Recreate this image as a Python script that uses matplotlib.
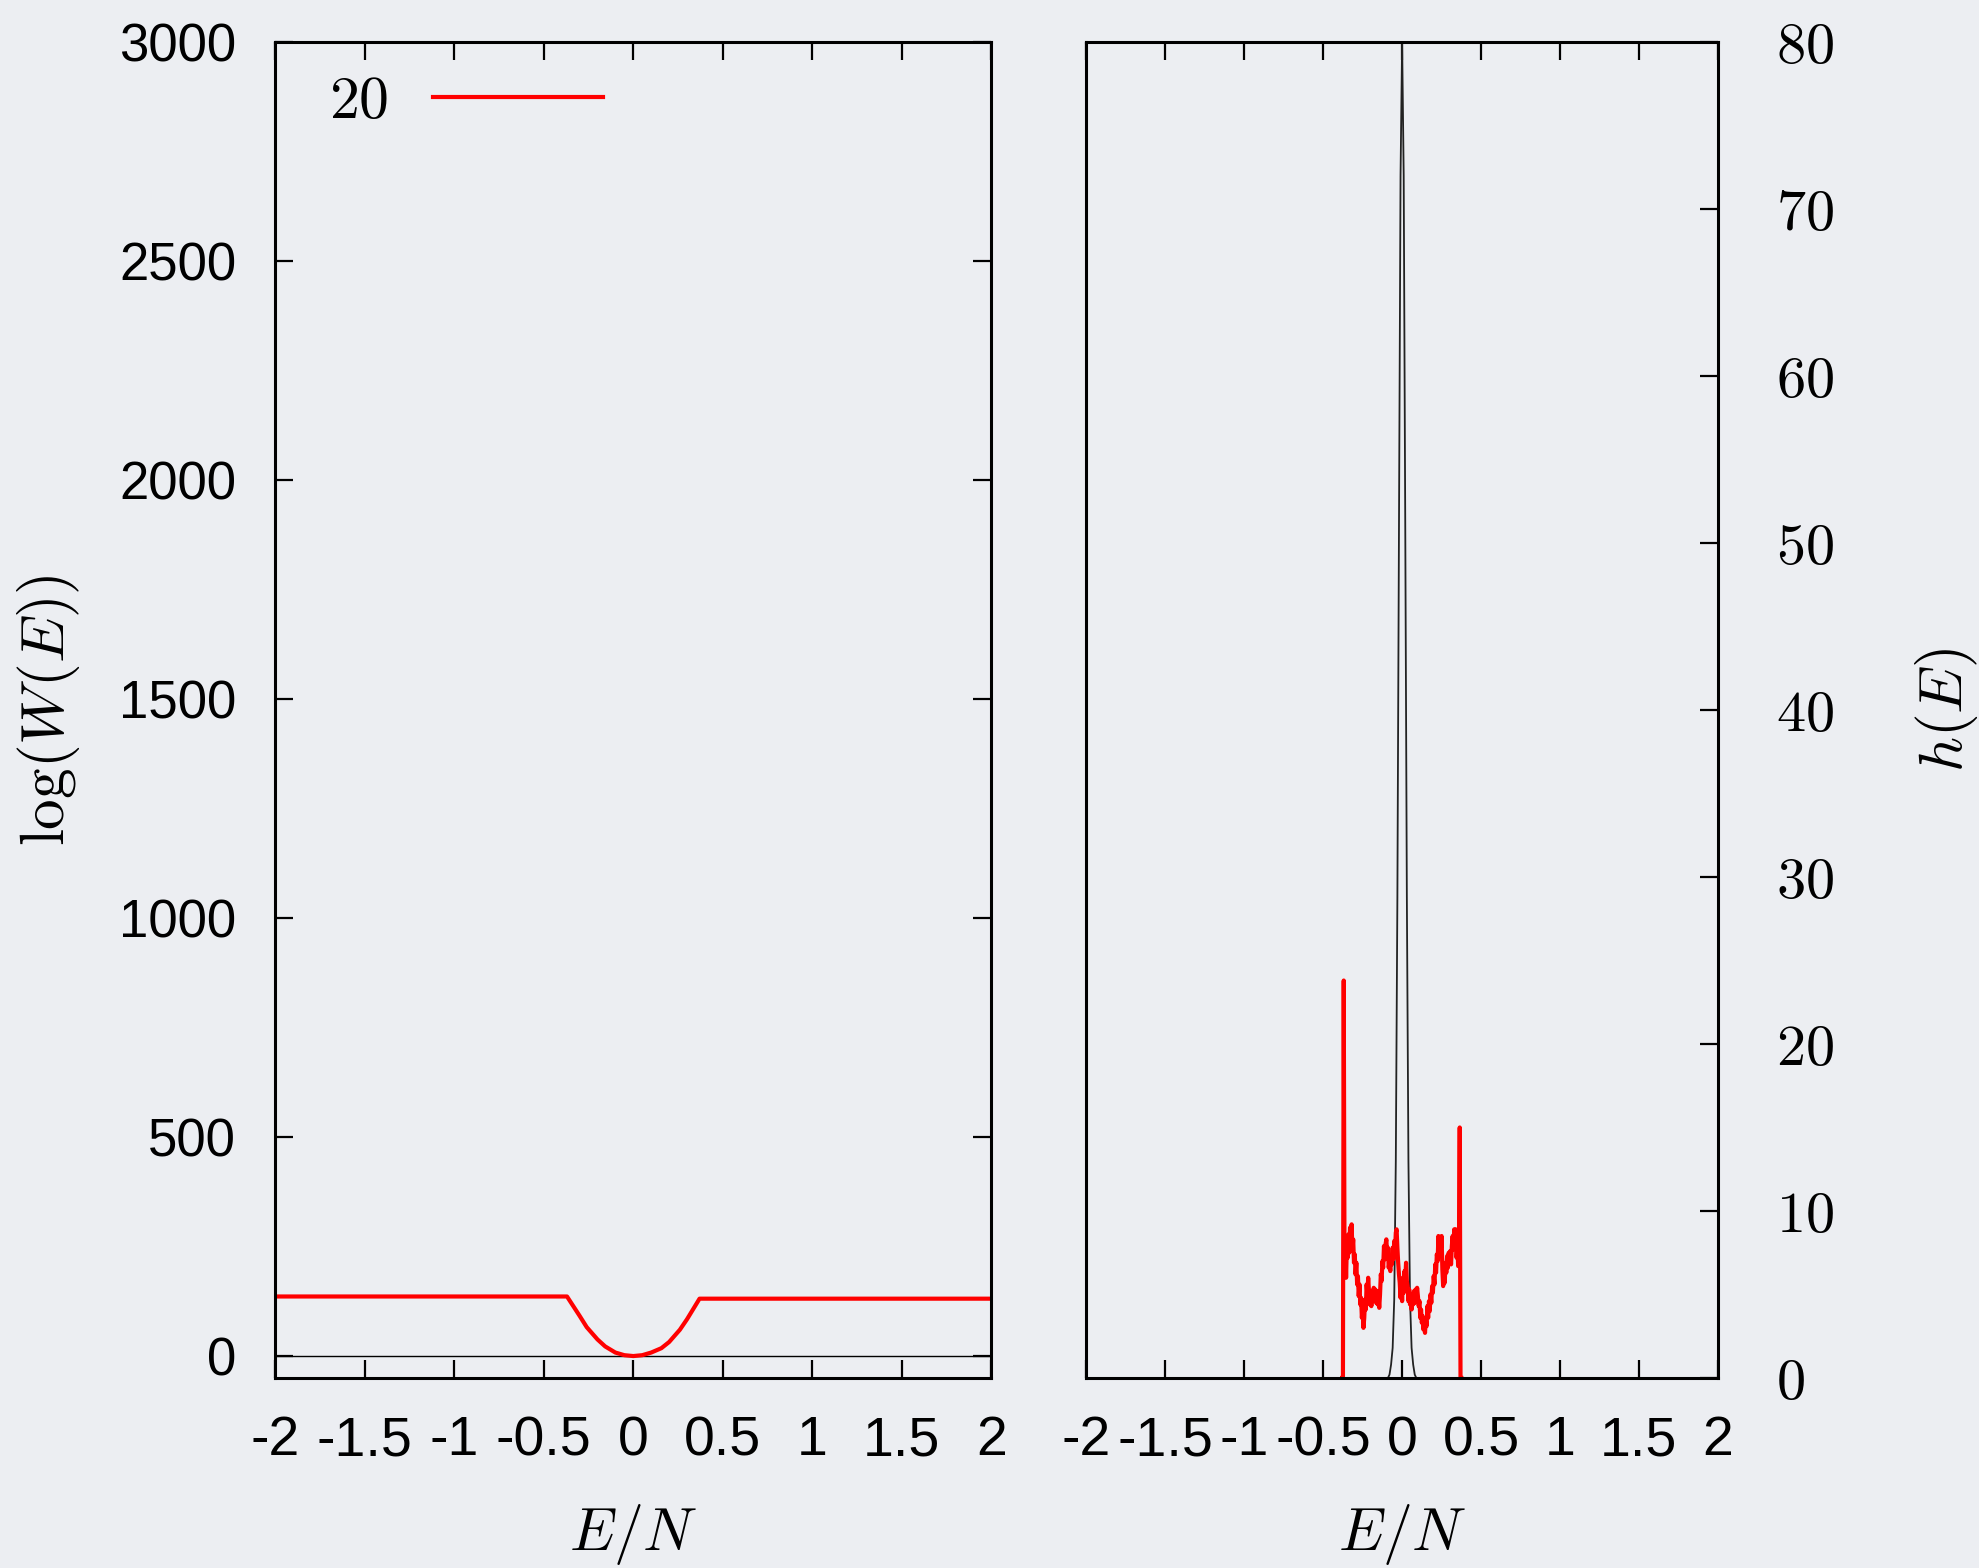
import numpy as np
import matplotlib
matplotlib.use("Agg")
import matplotlib.pyplot as plt

plt.rcParams['mathtext.fontset'] = 'cm'
plt.rcParams['font.family'] = ['Liberation Sans', 'DejaVu Sans']

# left panel: log(W(E)) for N=20
E_w = [-2.0, -0.37, -0.30, -0.26, -0.20, -0.157, -0.10, -0.05, 0.0,
       0.05, 0.10, 0.157, 0.20, 0.26, 0.30, 0.37, 2.0]
logW = [136, 136, 92, 66, 38, 22, 8, 2, 0,
        2, 8, 18, 32, 60, 84, 131, 131]

# right panel: histogram h(E) (red) and narrow peak (black)
h_red = [
    0, 0, 23.8, 6.5, 8.2, 6.0, 8.0, 7.2, 8.6, 7.5,
    9.0, 8.1, 9.2, 7.6, 8.3, 6.9, 7.4, 6.2, 6.9, 5.6,
    6.1, 4.9, 5.6, 4.4, 4.8, 3.6, 4.2, 3.0, 3.6, 4.7,
    4.1, 5.6, 5.0, 6.0, 5.2, 4.4, 5.1, 4.3, 5.2, 4.6,
    5.4, 4.7, 5.3, 4.5, 5.2, 4.4, 4.9, 4.2, 5.0, 6.2,
    5.8, 7.0, 6.6, 7.9, 7.1, 8.0, 8.3, 7.4, 7.8, 6.6,
    7.0, 6.4, 7.3, 6.8, 7.8, 7.1, 8.2, 7.6, 8.7, 8.9,
    7.8, 6.9, 6.2, 5.7, 4.8, 5.6, 4.6, 6.0, 5.1, 6.4,
    5.9, 6.9, 5.8, 5.5, 4.6, 5.3, 4.4, 5.0, 4.1, 4.8,
    4.4, 5.2, 4.5, 5.3, 4.7, 5.4, 4.9, 4.3, 4.6, 3.6,
    4.1, 3.3, 3.7, 2.9, 3.4, 2.7, 3.5, 3.1, 4.3, 3.6,
    4.6, 4.0, 5.0, 4.5, 5.5, 5.1, 6.1, 5.6, 6.8, 6.3,
    7.4, 7.0, 8.5, 7.8, 8.4, 7.6, 8.5, 6.5, 5.5, 6.2,
    5.7, 6.9, 6.3, 7.3, 6.6, 7.5, 7.0, 7.6, 6.8, 7.9,
    8.5, 7.7, 8.9, 8.1, 8.9, 7.2, 8.0, 6.7, 7.4, 15.0,
    0, 0,
]
E_red = np.linspace(-0.380, 0.375, len(h_red))

E_peak = [-0.10, -0.09, -0.08, -0.07, -0.06, -0.05, -0.04, -0.03, -0.02, -0.01, 0.0,
          0.01, 0.02, 0.03, 0.04, 0.05, 0.06, 0.07, 0.08, 0.09, 0.10]
h_peak = [0, 0, 0.2, 0.8, 1.8, 4.7, 13, 28.8, 50.8, 72, 80,
          72, 50.8, 28.8, 13, 4.7, 1.8, 0.8, 0.2, 0, 0]

xticks = [-2, -1.5, -1, -0.5, 0, 0.5, 1, 1.5, 2]
xticklabels = ['-2', '-1.5', '-1', '-0.5', '0', '0.5', '1', '1.5', '2']
yticks_left = [0, 500, 1000, 1500, 2000, 2500, 3000]
yticks_right = [0, 10, 20, 30, 40, 50, 60, 70, 80]

bg = '#eceef2'

fig = plt.figure(figsize=(19.79, 15.68), dpi=100, facecolor=bg)
ax1 = fig.add_axes([0.139, 0.1212, 0.362, 0.852])
ax2 = fig.add_axes([0.549, 0.1212, 0.319, 0.852])

for ax in (ax1, ax2):
    ax.set_facecolor(bg)
    for s in ax.spines.values():
        s.set_linewidth(2.2)
    ax.set_xlim(-2, 2)
    ax.set_xticks(xticks)
    ax.set_xticklabels(xticklabels)
    ax.tick_params(axis='both', direction='in', length=13, width=1.6,
                   labelsize=38, top=True)
    ax.tick_params(axis='x', pad=27, labelsize=40)
    ax.set_xlabel(r'$E/N$', fontsize=43)
    ax.xaxis.set_label_coords(0.5, -0.093)

# left panel
ax1.axhline(0, color='black', lw=1.0)
ax1.plot(E_w, logW, color='red', lw=3, label=r'$20$')
ax1.set_ylim(-50, 3000)
ax1.set_yticks(yticks_left)
ax1.tick_params(axis='y', right=True, pad=28)
ax1.set_ylabel(r'$\log(W(E))$', fontsize=44)
ax1.yaxis.set_label_coords(-0.27, 0.5)
ax1.legend(loc='center left', bbox_to_anchor=(0.075, 0.955), frameon=False,
           markerfirst=False, handlelength=2.85, handletextpad=0.75,
           borderaxespad=0, borderpad=0, fontsize=43)

# right panel
ax2.plot(E_peak, h_peak, color='#222222', lw=1.3)
ax2.plot(E_red, h_red, color='red', lw=3)
ax2.set_ylim(0, 80)
ax2.yaxis.tick_right()
ax2.set_yticks(yticks_right)
ax2.set_yticklabels([f'${v}$' for v in yticks_right])
ax2.tick_params(axis='y', left=False, right=True, pad=42, labelsize=42)
ax2.yaxis.set_label_position('right')
ax2.set_ylabel(r'$h(E)$', fontsize=44)
ax2.yaxis.set_label_coords(1.31, 0.5)

fig.savefig('out.png', dpi=100, facecolor=bg)
